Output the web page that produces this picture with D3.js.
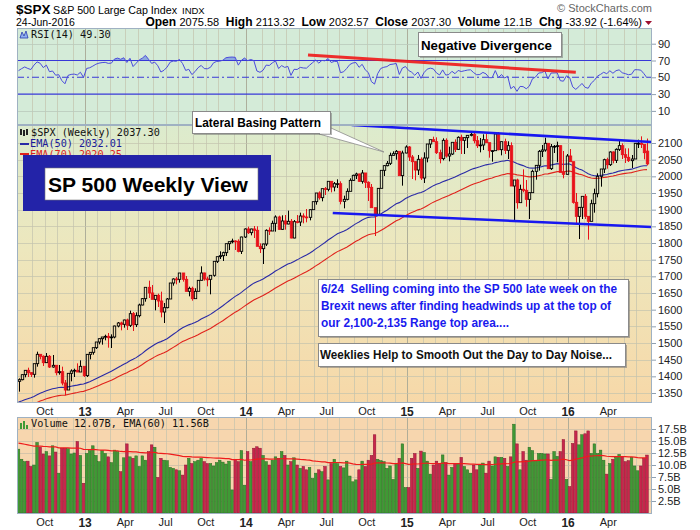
<!DOCTYPE html>
<html><head><meta charset="utf-8"><title>$SPX Weekly</title>
<script src="https://cdn.jsdelivr.net/npm/d3@7/dist/d3.min.js"></script>
<style>
body{margin:0;background:#fff;}
svg{display:block;font-family:"Liberation Sans",Arial,sans-serif;}
</style></head><body>
<svg id="chart" width="700" height="530"></svg>
<script>
// ---------------- DATA (weekly, first week ending 2012-08-03) ----------------
const startDate = "2012-08-03";

const open2012 = [1385,1390,1405,1418,1411,1406,1438,1466,1460,1441,1460,1428,1433,1411,1414,1380,1359,1409,1416,1418,1413,1430];
const high2012 = [1394,1406,1419,1426,1413,1438,1474,1467,1463,1470,1464,1464,1434,1434,1429,1389,1409,1421,1423,1439,1448,1430];
const low2012  = [1354,1388,1397,1398,1398,1396,1429,1451,1431,1440,1425,1426,1403,1405,1373,1343,1359,1385,1398,1413,1413,1398];
const close2012= [1390,1405,1418,1411,1406,1438,1466,1460,1441,1460,1428,1433,1411,1414,1380,1359,1409,1416,1418,1413,1430,1402];

const open2013 = [1402,1466,1472,1486,1503,1513,1518,1520,1516,1518,1551,1560,1556,1569,1553,1588,1555,1582,1614,1633,1667,1650,1631,1643,1626,1593,1606,1632,1680,1692,1691,1710,1691,1655,1664,1633,1655,1688,1710,1692,1691,1703,1745,1759,1762,1771,1798,1804,1806,1805,1775,1818];
const high2013 = [1467,1473,1486,1503,1514,1518,1525,1530,1526,1552,1563,1564,1570,1573,1597,1593,1592,1618,1635,1667,1687,1674,1644,1648,1654,1620,1635,1680,1694,1698,1710,1710,1701,1669,1669,1664,1689,1730,1711,1699,1703,1745,1759,1775,1774,1798,1804,1813,1808,1811,1819,1844];
const low2013  = [1398,1451,1465,1482,1496,1495,1508,1486,1485,1514,1547,1538,1546,1539,1548,1536,1548,1577,1613,1624,1635,1631,1598,1608,1577,1560,1604,1632,1672,1676,1681,1684,1654,1640,1627,1633,1655,1687,1687,1670,1646,1699,1740,1752,1746,1761,1779,1799,1779,1772,1767,1815];
const close2013= [1466,1472,1486,1503,1513,1518,1520,1516,1518,1551,1560,1556,1569,1553,1588,1555,1582,1614,1633,1667,1650,1631,1643,1626,1593,1606,1632,1680,1692,1691,1710,1691,1655,1664,1633,1655,1688,1710,1692,1691,1703,1745,1759,1762,1771,1798,1804,1806,1805,1775,1818,1842];

const open2014 = [1842,1831,1842,1838,1790,1783,1797,1838,1836,1859,1878,1841,1866,1857,1865,1815,1864,1863,1881,1878,1877,1900,1924,1950,1936,1963,1961,1985,1968,1978,1978,1925,1931,1955,1988,2003,2007,1985,2010,1982,1967,1906,1886,1964,2018,2032,2039,2063,2068,2075,2002,2070];
const high2014 = [1849,1843,1851,1850,1799,1798,1841,1847,1867,1883,1882,1883,1884,1897,1872,1869,1884,1891,1889,1902,1901,1924,1950,1955,1963,1968,1985,1986,1983,1991,1985,1942,1964,1994,2005,2011,2008,2019,2010,1985,1977,1906,1965,2018,2034,2046,2071,2075,2079,2075,2077,2093];
const low2014  = [1827,1823,1815,1790,1770,1737,1791,1824,1836,1834,1839,1839,1840,1856,1814,1814,1859,1851,1859,1862,1868,1900,1915,1930,1925,1944,1955,1952,1955,1965,1916,1904,1928,1955,1986,1992,1983,1978,1965,1926,1906,1821,1886,1964,2001,2030,2034,2062,2050,2002,1972,2069];
const close2014= [1831,1842,1838,1790,1783,1797,1838,1836,1859,1878,1841,1866,1857,1865,1815,1864,1863,1881,1878,1877,1900,1924,1950,1936,1963,1961,1985,1968,1978,1978,1925,1931,1955,1988,2003,2007,1985,2010,1982,1967,1906,1886,1964,2018,2032,2039,2063,2068,2075,2002,2070,2088];

const open2015 = [2088,2058,2044,2019,2051,1995,2055,2097,2110,2104,2071,2053,2108,2061,2067,2102,2081,2117,2108,2116,2123,2126,2107,2092,2094,2110,2101,2077,2077,2127,2080,2104,2078,2092,1971,1989,1921,1961,1958,1931,1951,2015,2033,2075,2079,2099,2023,2089,2090,2092,2012,2006,2061];
const high2015 = [2091,2064,2046,2064,2057,2072,2097,2110,2119,2117,2080,2114,2114,2089,2102,2111,2120,2125,2117,2124,2134,2132,2121,2115,2126,2129,2101,2078,2129,2133,2105,2113,2105,2102,1989,1993,1975,2021,1989,1952,2020,2034,2079,2094,2116,2100,2097,2094,2104,2093,2076,2067,2082];
const low2015  = [2046,1992,1988,2004,1989,1980,2042,2085,2103,2067,2039,2048,2056,2045,2064,2073,2079,2067,2067,2085,2120,2099,2085,2072,2079,2100,2056,2044,2077,2078,2063,2067,2052,1971,1867,1903,1921,1952,1909,1872,1951,1990,2017,2058,2074,2023,2019,2070,2042,2012,1994,2005,2044];
const close2015= [2058,2044,2019,2051,1995,2055,2097,2110,2104,2071,2053,2108,2061,2067,2102,2081,2117,2108,2116,2123,2126,2107,2092,2094,2110,2101,2077,2077,2127,2080,2104,2078,2092,1971,1989,1921,1961,1958,1931,1951,2015,2033,2075,2079,2099,2023,2089,2090,2092,2012,2006,2061,2044];

const open2016 = [2044,1922,1880,1907,1940,1880,1865,1918,1948,2000,2022,2050,2035,2073,2048,2081,2092,2065,2057,2047,2052,2099,2099,2096,2075.58];
const high2016 = [2044,1950,1908,1940,1947,1881,1930,1963,2009,2022,2053,2056,2075,2075,2084,2111,2099,2084,2084,2064,2100,2110,2120,2096,2113.32];
const low2016  = [1918,1857,1812,1872,1872,1810,1865,1891,1937,1969,2010,2023,2031,2039,2040,2076,2052,2040,2043,2025,2052,2085,2085,2051,2032.57];
const close2016= [1922,1880,1907,1940,1880,1865,1918,1948,2000,2022,2050,2035,2073,2048,2081,2092,2065,2057,2047,2052,2099,2099,2096,2071,2037.30];

// weekly volume, billions of shares
const vol2012 = [13.3,11.2,10.7,10.8,9.7,10.0,14.7,13.7,12.3,12.8,11.9,14.0,12.7,8.3,13.5,13.5,13.4,12.3,12.5,14.9,12.0,6.2];
const vol2013 = [12.4,13.0,14.0,12.0,10.7,13.0,12.4,11.7,10.5,13.1,12.8,8.6,11.5,14.4,11.7,11.4,11.9,9.7,11.9,11.0,12.8,14.2,13.7,7.4,11.4,11.0,10.9,9.5,9.3,9.0,8.8,7.9,10.0,11.4,10.3,10.7,11.0,11.4,10.7,10.3,10.3,9.8,10.5,11.0,10.6,10.2,10.8,4.8,11.2,10.7,13.0,5.8];
const vol2014 = [12.8,10.7,13.5,13.8,13.5,12.0,10.7,10.0,11.0,11.7,11.4,12.8,12.0,10.0,10.7,11.5,10.0,9.3,9.7,9.0,9.5,7.2,8.3,9.0,8.6,9.7,6.9,10.3,11.2,10.3,9.7,9.4,10.8,7.7,6.5,6.9,9.0,10.8,9.7,11.0,12.0,16.3,11.2,10.9,10.7,9.3,9.8,7.0,10.3,11.4,14.4,5.3];
const vol2015 = [5.3,11.4,12.4,9.3,12.9,12.6,10.8,8.1,10.0,10.8,10.3,12.1,10.5,7.9,9.5,10.3,10.3,11.6,9.7,9.0,8.3,10.0,9.0,10.0,10.4,8.3,10.8,9.8,11.7,11.6,11.6,11.4,9.7,11.7,18.5,14.4,9.0,12.8,11.0,13.7,13.0,11.0,12.4,12.4,12.3,12.3,7.0,12.8,11.8,12.8,15.3,7.0,5.5];
const vol2016 = [14.5,17.1,14.2,16.3,16.5,17.1,12.4,14.4,12.4,13.1,11.0,8.1,10.3,11.2,11.6,12.2,11.7,10.7,10.9,11.6,9.8,8.8,9.8,11.4,12.07];

// indicator starting levels read at the left edge of the chart
const ema50Start = 1320, ema70Start = 1300, volEmaStart = 14.6;
const rsiStartGain = 11, rsiStartLoss = 8;

// axis ticks
const priceTicks = [1350,1400,1450,1500,1550,1600,1650,1700,1750,1800,1850,1900,1950,2000,2050,2100];
const rsiTicks = [10,30,50,70,90];
const volTicks = [2.5,5,7.5,10,12.5,15,17.5];
const quarterNames = {3:"Apr",6:"Jul",9:"Oct"};

// annotation lines in data units [week index, value]
const upperTrend = [[107.6,2154],[204.5,2103]];
const lowerTrend = [[101.5,1890],[204.5,1848]];
const rsiDivergence = [[93.5,76.5],[180,56]];

// ---------------- BUILD ----------------
const opens = [].concat(open2012,open2013,open2014,open2015,open2016);
const highs = [].concat(high2012,high2013,high2014,high2015,high2016);
const lows  = [].concat(low2012,low2013,low2014,low2015,low2016);
const closes= [].concat(close2012,close2013,close2014,close2015,close2016);
const vols  = [].concat(vol2012,vol2013,vol2014,vol2015,vol2016);
const N = closes.length;

const d0 = d3.timeParse("%Y-%m-%d")(startDate);
const dates = closes.map((_,i)=>d3.timeDay.offset(d0,7*i));

// indicators
function ema(arr, n, seed){ const a=2/(n+1); let e=seed; return arr.map(v=>(e=e+a*(v-e))); }
const ema50 = ema(closes,50,ema50Start);
const ema70 = ema(closes,70,ema70Start);
const volEma = ema(vols,60,volEmaStart);
let ag=rsiStartGain, al=rsiStartLoss;
const rsi = closes.map((c,i)=>{
  if(i>0){ const ch=c-closes[i-1]; ag=(ag*13+Math.max(ch,0))/14; al=(al*13+Math.max(-ch,0))/14; }
  return 100-100/(1+ag/al);
});

const svg = d3.select("#chart");
const L=17, R=652;
const rsiTop=28, rsiBot=125, mainTop=125, mainBot=403, volTop=417, volBot=514;

const x  = d3.scaleLinear().domain([0,N-1]).range([18.5,647]);
const yP = d3.scaleLinear().domain([1320,2154]).range([mainBot,mainTop]);
const yR = d3.scaleLinear().domain([0,100]).range([119.3,35.3]);
const yV = d3.scaleLinear().domain([0,20]).range([513,417]);

const defs = svg.append("defs");
const grad = defs.append("linearGradient").attr("id","mainBg").attr("x1",0).attr("y1",0).attr("x2",0).attr("y2",1);
grad.append("stop").attr("offset","0%").attr("stop-color","#dcebcd");
grad.append("stop").attr("offset","45%").attr("stop-color","#ede7bd");
grad.append("stop").attr("offset","100%").attr("stop-color","#f7d8a8");
function clip(id,y0,y1){ defs.append("clipPath").attr("id",id).append("rect").attr("x",L).attr("y",y0).attr("width",R-L).attr("height",y1-y0); }
clip("rsiClip",rsiTop,rsiBot); clip("mainClip",mainTop,mainBot); clip("volClip",volTop,volBot);
clip("rsiHi",rsiTop,yR(70)); 
defs.append("clipPath").attr("id","rsiLo").append("rect").attr("x",L).attr("y",yR(30)).attr("width",R-L).attr("height",rsiBot-yR(30));

// panel backgrounds
svg.append("rect").attr("x",L).attr("y",rsiTop).attr("width",R-L).attr("height",rsiBot-rsiTop).attr("fill","#d4ebd8");
svg.append("rect").attr("x",L).attr("y",mainTop).attr("width",R-L).attr("height",mainBot-mainTop).attr("fill","url(#mainBg)");
svg.append("rect").attr("x",L).attr("y",volTop).attr("width",R-L).attr("height",volBot-volTop).attr("fill","#f7d6ae");

// grid
const monthIdx = [];
dates.forEach((d,i)=>{ if(i>0 && d.getMonth()!==dates[i-1].getMonth()) monthIdx.push(i); });
const quarterIdx = monthIdx.filter(i=>dates[i].getMonth()%3===0);
const grid = svg.append("g");
[[rsiTop,rsiBot],[mainTop,mainBot],[volTop,volBot]].forEach(([t,b])=>{
  grid.selectAll(null).data(monthIdx).join("line")
    .attr("x1",i=>Math.round(x(i-0.5))+0.5).attr("x2",i=>Math.round(x(i-0.5))+0.5)
    .attr("y1",t).attr("y2",b)
    .attr("stroke",i=>dates[i].getMonth()===0?"#a9a996":"#c3c3ae")
    .attr("stroke-opacity",i=>dates[i].getMonth()===0?0.9:0.7).attr("stroke-width",1);
});
grid.selectAll(null).data(priceTicks).join("line").attr("x1",L).attr("x2",R)
  .attr("y1",d=>Math.round(yP(d))+0.5).attr("y2",d=>Math.round(yP(d))+0.5).attr("stroke","#c3c3ae").attr("stroke-opacity",0.7);
grid.selectAll(null).data(volTicks).join("line").attr("x1",L).attr("x2",R)
  .attr("y1",d=>Math.round(yV(d))+0.5).attr("y2",d=>Math.round(yV(d))+0.5).attr("stroke","#c8bca6").attr("stroke-opacity",0.7);
grid.selectAll(null).data([10,90]).join("line").attr("x1",L).attr("x2",R)
  .attr("y1",d=>Math.round(yR(d))+0.5).attr("y2",d=>Math.round(yR(d))+0.5).attr("stroke","#b9c9bc").attr("stroke-opacity",0.8);

// ---------- RSI panel ----------
const rg = svg.append("g").attr("clip-path","url(#rsiClip)");
const rsiLine = d3.line().x((d,i)=>x(i)).y(d=>yR(d));
rg.append("path").datum(rsi).attr("clip-path","url(#rsiHi)")
  .attr("d",d3.area().x((d,i)=>x(i)).y0(yR(70)).y1(d=>yR(d))).attr("fill","#6f8fe0").attr("opacity",0.7);
rg.append("path").datum(rsi).attr("clip-path","url(#rsiLo)")
  .attr("d",d3.area().x((d,i)=>x(i)).y0(yR(30)).y1(d=>yR(d))).attr("fill","#6f8fe0").attr("opacity",0.7);
[70,30].forEach(v=>rg.append("line").attr("x1",L).attr("x2",R).attr("y1",yR(v)).attr("y2",yR(v)).attr("stroke","#3838d8").attr("stroke-width",1.2));
rg.append("line").attr("x1",L).attr("x2",R).attr("y1",yR(50)).attr("y2",yR(50)).attr("stroke","#3838d8").attr("stroke-width",1.1).attr("stroke-dasharray","7,3,2,3");
rg.append("path").datum(rsi).attr("d",rsiLine).attr("fill","none").attr("stroke","#4b4bdc").attr("stroke-width",1);
rg.append("path").datum(rsiDivergence).attr("d",d3.line().x(d=>x(d[0])).y(d=>yR(d[1])))
  .attr("stroke","#f01818").attr("stroke-width",3).attr("fill","none").attr("opacity",0.9);

// ---------- Price panel ----------
const mg = svg.append("g").attr("clip-path","url(#mainClip)");
const emaLine = d3.line().x((d,i)=>x(i)).y(d=>yP(d));
mg.append("path").datum(ema70).attr("d",emaLine).attr("fill","none").attr("stroke","#e0231c").attr("stroke-width",1.1);
mg.append("path").datum(ema50).attr("d",emaLine).attr("fill","none").attr("stroke","#2a2aa6").attr("stroke-width",1.1);

const candles = closes.map((c,i)=>({i,o:opens[i],h:highs[i],l:lows[i],c,
  down: i>0 ? c<closes[i-1] : c<opens[i], filled: c<opens[i]}));
const cg = mg.append("g");
const cx = d=>Math.round(x(d.i))+0.5;
const col = d=>d.down?"#e8121a":"#000";
cg.selectAll(".wh").data(candles).join("line").attr("x1",cx).attr("x2",cx)
  .attr("y1",d=>yP(d.h)).attr("y2",d=>yP(Math.max(d.o,d.c))).attr("stroke",col).attr("stroke-width",1);
cg.selectAll(".wl").data(candles).join("line").attr("x1",cx).attr("x2",cx)
  .attr("y1",d=>yP(Math.min(d.o,d.c))).attr("y2",d=>yP(d.l)).attr("stroke",col).attr("stroke-width",1);
cg.selectAll(".body").data(candles).join("rect")
  .attr("x",d=>cx(d)-1.2).attr("width",2.4)
  .attr("y",d=>yP(Math.max(d.o,d.c))).attr("height",d=>Math.max(yP(Math.min(d.o,d.c))-yP(Math.max(d.o,d.c)),0.8))
  .attr("fill",d=>d.filled?col(d):"none").attr("stroke",col).attr("stroke-width",0.9);

const tl = d3.line().x(d=>x(d[0])).y(d=>yP(d[1]));
[upperTrend,lowerTrend].forEach(t=>mg.append("path").datum(t).attr("d",tl).attr("stroke","#1818f0").attr("stroke-width",2.6).attr("fill","none"));

// ---------- Volume panel ----------
const vg = svg.append("g").attr("clip-path","url(#volClip)");
vg.selectAll("rect").data(vols).join("rect")
  .attr("x",(d,i)=>x(i)-1.3).attr("width",2.6)
  .attr("y",d=>yV(d)).attr("height",d=>yV(0)-yV(d))
  .attr("fill",(d,i)=>(i>0&&closes[i]<closes[i-1])?"#c8264c":"#3f9a35")
  .attr("stroke",(d,i)=>(i>0&&closes[i]<closes[i-1])?"#8e1632":"#2a6a22").attr("stroke-width",0.5);
vg.append("path").datum(volEma).attr("d",d3.line().x((d,i)=>x(i)).y(d=>yV(d)))
  .attr("fill","none").attr("stroke","#ee1c1c").attr("stroke-width",1.2);

// panel borders
[[rsiTop,rsiBot],[mainTop,mainBot],[volTop,volBot]].forEach(([t,b])=>
  svg.append("rect").attr("x",L+0.5).attr("y",t+0.5).attr("width",R-L-1).attr("height",b-t-1)
    .attr("fill","none").attr("stroke","#9fb1c2").attr("stroke-width",1));

// ---------- Axes ----------
function styleAxis(g){ g.select(".domain").remove(); g.selectAll(".tick line").attr("stroke","#8fa0b0");
  g.selectAll("text").attr("font-family","Liberation Sans, Arial, sans-serif").attr("font-size",11).attr("fill","#222"); }
svg.append("g").attr("transform",`translate(${R},0)`)
  .call(d3.axisRight(yP).tickValues(priceTicks).tickSize(4).tickPadding(2).tickFormat(d3.format("d"))).call(styleAxis);
svg.append("g").attr("transform",`translate(${R},0)`)
  .call(d3.axisRight(yR).tickValues(rsiTicks).tickSize(4).tickPadding(2).tickFormat(d3.format("d"))).call(styleAxis);
svg.append("g").attr("transform",`translate(${R},0)`)
  .call(d3.axisRight(yV).tickValues(volTicks).tickSize(4).tickPadding(2).tickFormat(d=>d3.format(".1f")(d)+"B")).call(styleAxis);

const qLabel = i=>{ const m=dates[i].getMonth(); return m===0? d3.timeFormat("%y")(dates[i]) : quarterNames[m]; };
[mainBot,volBot].forEach(yb=>{
  const ax = svg.append("g").attr("transform",`translate(0,${yb})`)
    .call(d3.axisBottom(x).tickValues(quarterIdx).tickSize(0).tickPadding(4).tickFormat(qLabel)).call(styleAxis);
  ax.selectAll(".tick").attr("transform",i=>`translate(${x(i-0.5)},0)`);
  ax.selectAll("text").attr("font-weight",i=>dates[i].getMonth()===0?"bold":"normal").attr("font-size",i=>dates[i].getMonth()===0?12:11);
});

// ---------- Header ----------
const hdr = svg.append("g");
hdr.append("text").attr("x",16).attr("y",14).attr("font-size",13.5).attr("font-weight","bold").text("$SPX");
hdr.append("text").attr("x",53).attr("y",14).attr("font-size",11).attr("textLength",124).attr("lengthAdjust","spacingAndGlyphs").text("S&P 500 Large Cap Index");
hdr.append("text").attr("x",182).attr("y",14).attr("font-size",9.5).text("INDX");
hdr.append("text").attr("x",652).attr("y",12).attr("text-anchor","end").attr("font-size",11).attr("fill","#666").text("\u00A9 StockCharts.com");
hdr.append("text").attr("x",16).attr("y",26).attr("font-size",10.5).text("24-Jun-2016");
const stats=[["Open","2075.58"],["High","2113.32"],["Low","2032.57"],["Close","2037.30"],["Volume","12.1B"],["Chg","-33.92 (-1.64%)"]];
const st = hdr.append("text").attr("x",642).attr("y",26).attr("text-anchor","end").attr("font-size",11);
stats.forEach(([k,v],j)=>{
  st.append("tspan").attr("font-weight","bold").attr("font-size",12).text((j?"\u00A0 ":"")+k+" ");
  st.append("tspan").text(v);
});
hdr.append("path").attr("d","M645,21 L652,21 L648.5,25 Z").attr("fill","#9c1030");

// ---------- Legends ----------
const mono = "DejaVu Sans Mono, monospace";
svg.append("path").attr("d","M20,38 L22,32 L24,36 L26,31 L28,38 Z").attr("fill","#8fb0f0").attr("stroke","#2a3ab0").attr("stroke-width",0.8);
svg.append("text").attr("x",31).attr("y",38).attr("font-family",mono).attr("font-size",10.2).attr("fill","#111").text("RSI(14) 49.30");
svg.append("g").selectAll("rect").data([0,1,2]).join("rect").attr("x",d=>20+d*3).attr("y",d=>129+d%2).attr("width",2).attr("height",6).attr("fill","#222");
svg.append("text").attr("x",31).attr("y",136).attr("font-family",mono).attr("font-size",10.2).attr("fill","#111").text("$SPX (Weekly) 2037.30");
svg.append("line").attr("x1",20).attr("x2",29).attr("y1",144).attr("y2",144).attr("stroke","#2a2aa6").attr("stroke-width",2);
svg.append("text").attr("x",30).attr("y",147).attr("font-family",mono).attr("font-size",10.2).attr("fill","#1a1a99").text("EMA(50) 2032.01");
svg.append("line").attr("x1",20).attr("x2",29).attr("y1",154).attr("y2",154).attr("stroke","#e0231c").attr("stroke-width",2);
svg.append("text").attr("x",30).attr("y",158).attr("font-family",mono).attr("font-size",10.2).attr("fill","#d22").text("EMA(70) 2020.25");
svg.append("g").selectAll("rect").data([0,1,2]).join("rect").attr("x",d=>20+d*3).attr("y",d=>[423,421,425][d]).attr("width",2).attr("height",d=>[6,8,4][d]).attr("fill","#3f9a35");
svg.append("text").attr("x",31).attr("y",427).attr("font-family",mono).attr("font-size",10.2).attr("fill","#111").text("Volume 12.07B, EMA(60) 11.56B");

// ---------- Annotations ----------
function box(xx,yy,w,h){
  svg.append("rect").attr("x",xx+2).attr("y",yy+2).attr("width",w).attr("height",h).attr("fill","#777").attr("opacity",0.55);
  svg.append("rect").attr("x",xx+0.5).attr("y",yy+0.5).attr("width",w).attr("height",h).attr("fill","#fff").attr("stroke","#8a8a8a");
}
svg.append("rect").attr("x",23).attr("y",155).attr("width",248).attr("height",56).attr("fill","#2323a8");
svg.append("rect").attr("x",45).attr("y",168).attr("width",213).attr("height",32).attr("fill","#fff").attr("stroke","#777").attr("stroke-width",0.6);
svg.append("text").attr("x",48).attr("y",192).attr("font-size",21).attr("font-weight","bold").attr("textLength",200).attr("lengthAdjust","spacingAndGlyphs").text("SP 500 Weekly View");

svg.append("path").attr("d","M319,134 L331,128 L384,152 Z").attr("fill","#fff").attr("stroke","#8a8a8a").attr("stroke-width",0.8);
box(192,111,138,22);
svg.append("path").attr("d","M320,133 L330,133").attr("stroke","#fff").attr("stroke-width",1.5);
svg.append("text").attr("x",195).attr("y",127).attr("font-size",12).attr("font-weight","bold").attr("textLength",126).attr("lengthAdjust","spacingAndGlyphs").text("Lateral Basing Pattern");

box(418,32,143,24);
svg.append("text").attr("x",421).attr("y",50).attr("font-size",13).attr("font-weight","bold").attr("textLength",131).attr("lengthAdjust","spacingAndGlyphs").text("Negative Divergence");

box(318,279,310,57);
const note = ["6/24\u00A0 Selling coming into the SP 500 late week on the","Brexit news after finding headwinds up at the top of","our 2,100-2,135 Range top area...."];
const noteW = [296,290,188];
note.forEach((t,k)=>svg.append("text").attr("x",321).attr("y",293+k*17).attr("font-size",12.5).attr("font-weight","bold").attr("fill","#1a1aee")
  .attr("textLength",noteW[k]).attr("lengthAdjust","spacingAndGlyphs").text(t));
box(318,343,307,23);
svg.append("text").attr("x",320).attr("y",359).attr("font-size",12.5).attr("font-weight","bold").attr("fill","#111")
  .attr("textLength",292).attr("lengthAdjust","spacingAndGlyphs").text("Weeklies Help to Smooth Out the Day to Day Noise...");
</script>
</body></html>
